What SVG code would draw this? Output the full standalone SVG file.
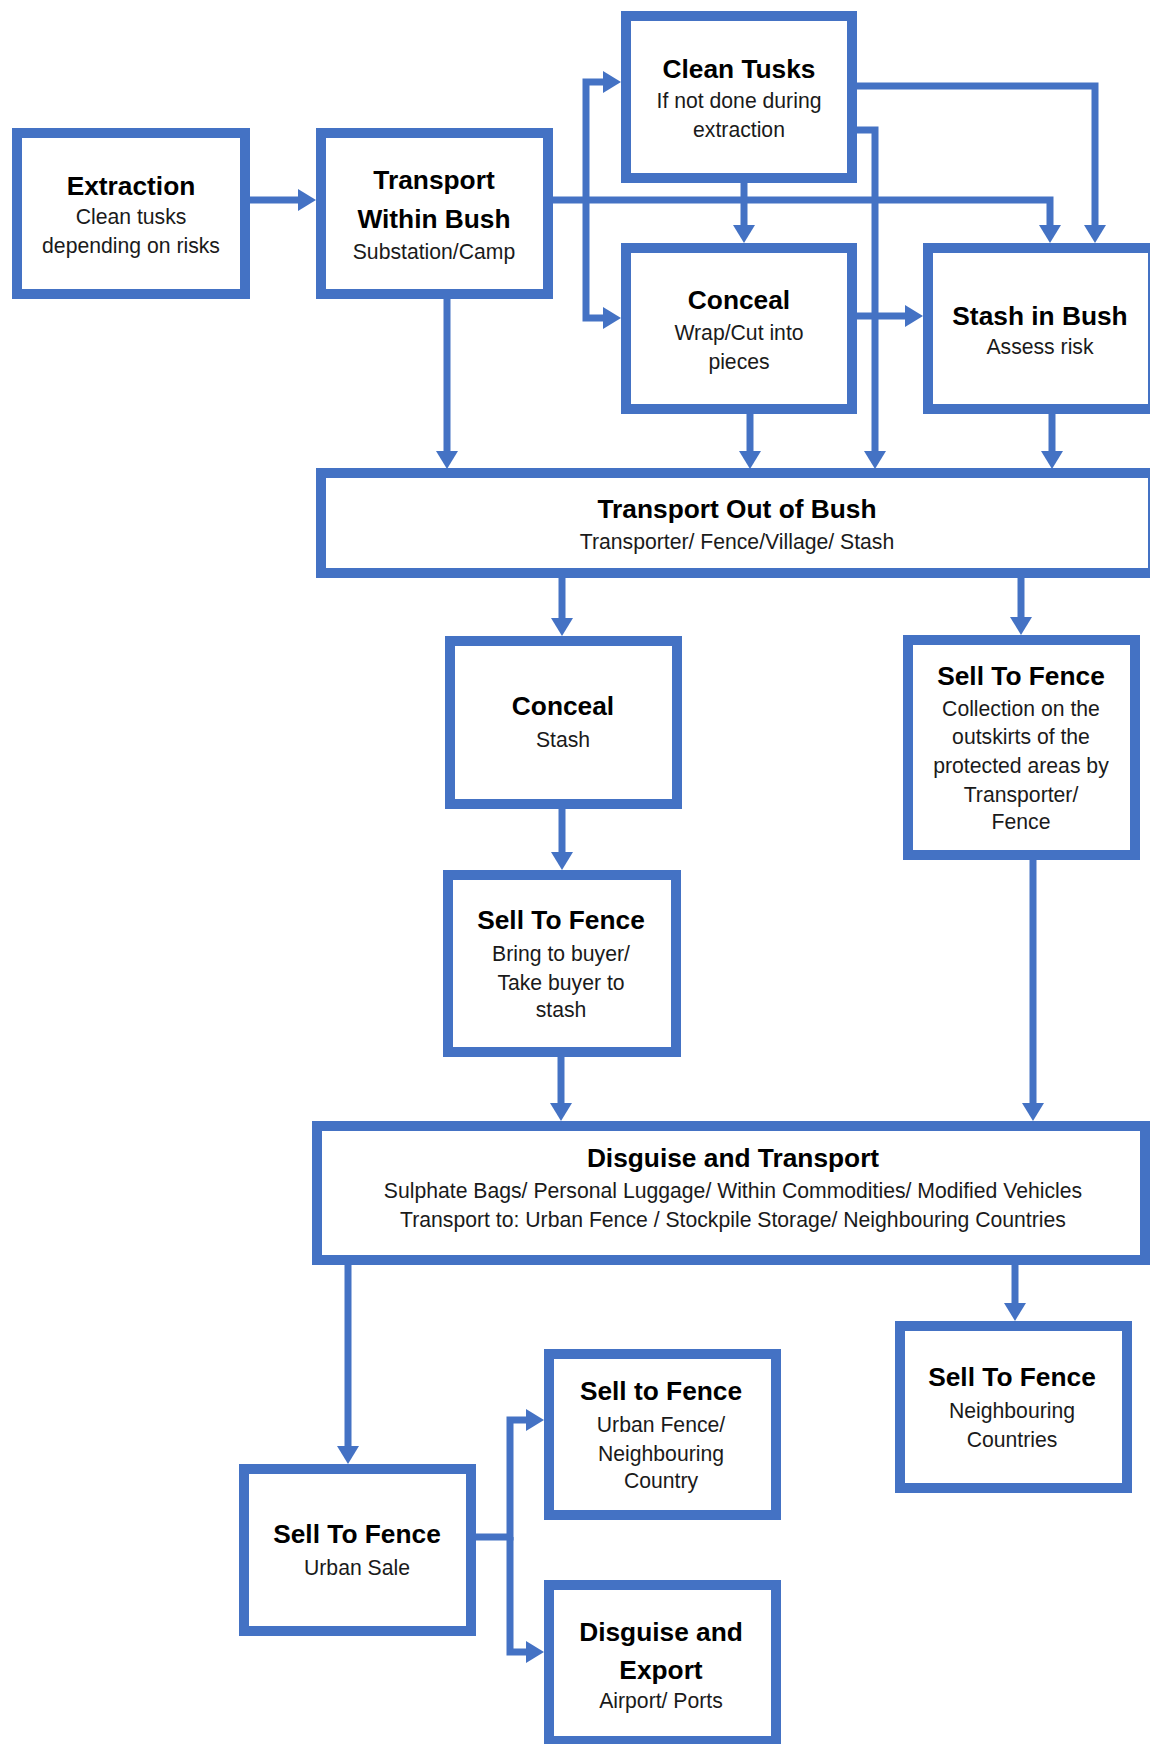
<svg xmlns="http://www.w3.org/2000/svg" width="1150" height="1744" viewBox="0 0 1150 1744">
<style>
.box{fill:#fff;stroke:#4472C4;stroke-width:10}
.c{fill:none;stroke:#4472C4;stroke-width:7;stroke-linejoin:miter}
.t{font-family:"Liberation Sans",Arial,sans-serif;font-weight:bold;font-size:26.3px;fill:#000;text-anchor:middle}
.s{font-family:"Liberation Sans",Arial,sans-serif;font-size:21.2px;fill:#1a1a1a;text-anchor:middle}
</style>
<defs>
<marker id="ah" markerUnits="userSpaceOnUse" markerWidth="20" markerHeight="22" refX="4" refY="11" orient="auto" viewBox="0 0 18 22">
<path d="M0,0 L18,11 L0,22 Z" fill="#4472C4"/>
</marker>
</defs>
<rect width="1150" height="1744" fill="#fff"/>
<g id="nodes">
<g id="extraction"><rect class="box" x="17" y="133" width="228" height="161"/>
<text class="t" x="131" y="195">Extraction</text>
<text class="s" x="131" y="224">Clean tusks</text>
<text class="s" x="131" y="253">depending on risks</text></g>
<g id="transport-within-bush"><rect class="box" x="321" y="133" width="227" height="161"/>
<text class="t" x="434" y="189">Transport</text>
<text class="t" x="434" y="228">Within Bush</text>
<text class="s" x="434" y="259">Substation/Camp</text></g>
<g id="clean-tusks"><rect class="box" x="626" y="16" width="226" height="162"/>
<text class="t" x="739" y="78">Clean Tusks</text>
<text class="s" x="739" y="108">If not done during</text>
<text class="s" x="739" y="137">extraction</text></g>
<g id="conceal-bush"><rect class="box" x="626" y="248" width="226" height="161"/>
<text class="t" x="739" y="309">Conceal</text>
<text class="s" x="739" y="340">Wrap/Cut into</text>
<text class="s" x="739" y="369">pieces</text></g>
<g id="stash-in-bush"><rect class="box" x="928" y="248" width="225" height="161"/>
<text class="t" x="1040" y="325">Stash in Bush</text>
<text class="s" x="1040" y="354">Assess risk</text></g>
<g id="transport-out-of-bush"><rect class="box" x="321" y="473" width="832" height="100"/>
<text class="t" x="737" y="518">Transport Out of Bush</text>
<text class="s" x="737" y="549">Transporter/ Fence/Village/ Stash</text></g>
<g id="conceal-stash"><rect class="box" x="450" y="641" width="227" height="163"/>
<text class="t" x="563" y="715">Conceal</text>
<text class="s" x="563" y="747">Stash</text></g>
<g id="sell-bring"><rect class="box" x="448" y="875" width="228" height="177"/>
<text class="t" x="561" y="929">Sell To Fence</text>
<text class="s" x="561" y="961">Bring to buyer/</text>
<text class="s" x="561" y="990">Take buyer to</text>
<text class="s" x="561" y="1017">stash</text></g>
<g id="sell-collection"><rect class="box" x="908" y="640" width="227" height="215"/>
<text class="t" x="1021" y="685">Sell To Fence</text>
<text class="s" x="1021" y="716">Collection on the</text>
<text class="s" x="1021" y="744">outskirts of the</text>
<text class="s" x="1021" y="773">protected areas by</text>
<text class="s" x="1021" y="802">Transporter/</text>
<text class="s" x="1021" y="829">Fence</text></g>
<g id="disguise-transport"><rect class="box" x="317" y="1126" width="828" height="134"/>
<text class="t" x="733" y="1167">Disguise and Transport</text>
<text class="s" x="733" y="1198">Sulphate Bags/ Personal Luggage/ Within Commodities/ Modified Vehicles</text>
<text class="s" x="733" y="1227">Transport to: Urban Fence / Stockpile Storage/ Neighbouring Countries</text></g>
<g id="sell-urban"><rect class="box" x="244" y="1469" width="227" height="162"/>
<text class="t" x="357" y="1543">Sell To Fence</text>
<text class="s" x="357" y="1575">Urban Sale</text></g>
<g id="sell-urban-fence"><rect class="box" x="549" y="1354" width="227" height="161"/>
<text class="t" x="661" y="1400">Sell to Fence</text>
<text class="s" x="661" y="1432">Urban Fence/</text>
<text class="s" x="661" y="1461">Neighbouring</text>
<text class="s" x="661" y="1488">Country</text></g>
<g id="disguise-export"><rect class="box" x="549" y="1585" width="227" height="156"/>
<text class="t" x="661" y="1641">Disguise and</text>
<text class="t" x="661" y="1679">Export</text>
<text class="s" x="661" y="1708">Airport/ Ports</text></g>
<g id="sell-neighbouring"><rect class="box" x="900" y="1326" width="227" height="162"/>
<text class="t" x="1012" y="1386">Sell To Fence</text>
<text class="s" x="1012" y="1418">Neighbouring</text>
<text class="s" x="1012" y="1447">Countries</text></g>
</g>
<g id="connectors">
<path class="c" marker-end="url(#ah)" d="M250,200 H302"/>
<path class="c" marker-end="url(#ah)" d="M447,299 V455"/>
<path class="c" marker-end="url(#ah)" d="M553,200 H1050 V229"/>
<path class="c" marker-end="url(#ah)" d="M586,200 V82 H607"/>
<path class="c" marker-end="url(#ah)" d="M586,200 V318 H607"/>
<path class="c" marker-end="url(#ah)" d="M744,183 V229"/>
<path class="c" marker-end="url(#ah)" d="M857,86 H1095 V229"/>
<path class="c" marker-end="url(#ah)" d="M857,130 H875 V455"/>
<path class="c" marker-end="url(#ah)" d="M857,316 H909"/>
<path class="c" marker-end="url(#ah)" d="M750,414 V455"/>
<path class="c" marker-end="url(#ah)" d="M1052,414 V455"/>
<path class="c" marker-end="url(#ah)" d="M562,578 V622"/>
<path class="c" marker-end="url(#ah)" d="M1021,578 V621"/>
<path class="c" marker-end="url(#ah)" d="M562,809 V856"/>
<path class="c" marker-end="url(#ah)" d="M561,1057 V1107"/>
<path class="c" marker-end="url(#ah)" d="M1033,860 V1107"/>
<path class="c" marker-end="url(#ah)" d="M348,1265 V1450"/>
<path class="c" marker-end="url(#ah)" d="M1015,1265 V1307"/>
<path class="c" marker-end="url(#ah)" d="M476,1537 H510 V1420 H530"/>
<path class="c" marker-end="url(#ah)" d="M510,1537 V1652 H530"/>
</g>
</svg>
